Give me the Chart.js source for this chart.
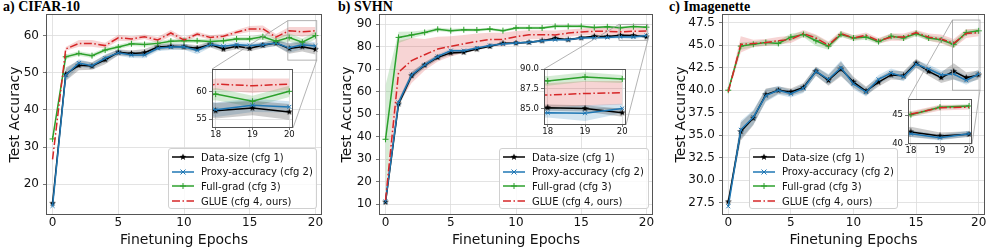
<!DOCTYPE html>
<html lang="en">
<head>
<meta charset="UTF-8">
<title>Test accuracy vs finetuning epochs</title>
<script src="https://cdn.jsdelivr.net/npm/chart.js"></script>
<style>
  body { margin: 0; background: #fff; }
  #fig { position: relative; width: 997px; height: 249px; overflow: hidden; font-family: "DejaVu Sans", sans-serif; }
  #fig canvas { position: absolute; }
  .ptitle { position: absolute; top: -1px; font: bold 14px "Liberation Serif", serif; color: #000; white-space: nowrap; }
  .legend { position: absolute; background: rgba(255,255,255,0.8); border: 1px solid #d0d0d0; border-radius: 3px; box-sizing: border-box; }
  .legend .row { position: absolute; left: 0; height: 14px; display: flex; align-items: center; font-size: 10px; color: #111; white-space: nowrap; }
  .legend svg { margin-left: 3px; margin-right: 7px; }
</style>
</head>
<body>
<div id="fig">
  <div class="ptitle" style="left:3px">a) CIFAR-10</div>
  <div class="ptitle" style="left:338px">b) SVHN</div>
  <div class="ptitle" style="left:669px">c) Imagenette</div>
</div>
<script>
// ---- data ----
const epochs = [0, 1, 2, 3, 4, 5, 6, 7, 8, 9, 10, 11, 12, 13, 14, 15, 16, 17, 18, 19, 20];
const xTicks = [0, 5, 10, 15, 20];
const insetXTicks = [18, 19, 20];
const seriesLabels = ['Data-size (cfg 1)', 'Proxy-accuracy (cfg 2)', 'Full-grad (cfg 3)', 'GLUE (cfg 4, ours)'];

// CIFAR-10
const cifarYTicks = [20, 30, 40, 50, 60];
const cifarInsetYTicks = [55, 60];
const cifarDataSize = [14.9, 49.6, 52.0, 51.8, 53.5, 55.5, 55.2, 55.4, 56.9, 57.1, 57.0, 56.6, 57.6, 56.4, 57.1, 56.6, 57.4, 58.0, 56.5, 57.0, 56.3];
const cifarDataSizeStd = [0.5, 1.8, 1.3, 1.0, 1.2, 0.8, 0.8, 1.0, 0.8, 0.8, 0.8, 0.8, 0.8, 0.8, 0.8, 0.8, 0.8, 0.8, 1.4, 1.3, 1.4];
const cifarProxy = [14.2, 49.4, 52.6, 51.9, 53.9, 55.4, 54.8, 54.8, 56.6, 56.9, 57.0, 56.0, 57.6, 57.1, 57.5, 57.3, 57.5, 58.0, 56.7, 57.5, 57.2];
const cifarProxyStd = [0.5, 1.5, 1.0, 0.8, 1.0, 0.8, 0.8, 0.9, 0.8, 0.8, 0.8, 1.0, 0.8, 0.8, 0.8, 0.8, 0.8, 0.8, 1.3, 1.2, 1.0];
const cifarFullGrad = [32.2, 54.3, 55.2, 54.6, 56.1, 56.9, 57.8, 57.6, 57.9, 58.5, 58.6, 58.6, 58.4, 58.6, 59.1, 59.1, 59.7, 58.5, 59.5, 58.2, 60.0];
const cifarFullGradStd = [0.5, 0.6, 0.6, 0.6, 0.6, 0.6, 0.6, 0.6, 0.6, 0.6, 0.6, 0.6, 0.6, 0.6, 0.6, 0.6, 0.8, 0.8, 1.1, 1.0, 1.0];
const cifarGlue = [26.7, 56.4, 57.9, 57.9, 57.3, 59.4, 59.1, 59.7, 58.8, 60.7, 58.8, 60.4, 59.5, 59.8, 60.9, 61.8, 61.8, 59.6, 61.3, 61.0, 61.3];
const cifarGlueStd = [0.5, 0.5, 0.9, 0.9, 0.8, 0.8, 0.7, 0.6, 0.8, 0.8, 0.7, 0.6, 0.6, 0.6, 0.6, 0.8, 0.9, 0.8, 1.0, 1.3, 1.0];

// SVHN
const svhnYTicks = [10, 20, 30, 40, 50, 60, 70, 80, 90];
const svhnInsetYTicks = [85, 87.5, 90];
const svhnDataSize = [11.0, 54.6, 67.2, 71.9, 75.3, 77.3, 77.6, 79.0, 80.2, 81.6, 81.7, 82.0, 82.7, 83.8, 83.2, 84.0, 84.7, 84.6, 85.1, 85.0, 84.45];
const svhnDataSizeStd = [0.5, 1.5, 1.5, 1.2, 1.0, 0.8, 0.6, 0.5, 0.5, 0.5, 0.5, 0.5, 0.5, 0.5, 0.5, 0.5, 0.5, 0.5, 0.4, 0.4, 0.5];
const svhnProxy = [11.2, 55.3, 67.5, 72.0, 75.7, 78.3, 78.3, 79.5, 80.6, 81.3, 81.7, 82.0, 82.7, 83.2, 83.2, 83.9, 84.0, 84.2, 84.45, 84.4, 85.0];
const svhnProxyStd = [0.5, 1.5, 1.5, 1.2, 1.0, 0.8, 0.6, 0.5, 0.5, 0.5, 0.5, 0.5, 0.5, 0.5, 0.5, 0.5, 0.6, 0.6, 0.6, 1.0, 0.6];
const svhnFullGrad = [38.9, 84.2, 85.3, 86.4, 87.8, 87.2, 87.6, 87.5, 87.9, 87.2, 88.4, 88.4, 88.4, 89.1, 89.1, 89.1, 88.6, 88.9, 88.5, 89.0, 88.75];
const svhnFullGradStd = [24, 2.5, 1.5, 1.0, 0.8, 0.8, 0.7, 0.7, 0.6, 0.6, 0.6, 0.6, 0.6, 0.6, 0.6, 0.6, 0.6, 0.6, 0.6, 0.6, 0.5];
const svhnGlue = [11.8, 68.7, 73.9, 76.5, 79.0, 80.2, 81.3, 82.4, 83.3, 83.3, 84.5, 85.4, 85.4, 85.3, 86.1, 86.6, 86.9, 86.9, 86.7, 86.9, 87.0];
const svhnGlueStd = [1.5, 14, 10, 7, 5.5, 4.5, 4, 3.5, 3, 3, 2.5, 2, 2, 2, 1.6, 1.6, 1.6, 1.6, 1.5, 1.6, 1.5];

// Imagenette
const imgYTicks = [27.5, 30, 32.5, 35, 37.5, 40, 42.5, 45, 47.5];
const imgInsetYTicks = [40, 45];
const imgDataSize = [27.6, 35.4, 36.9, 39.5, 40.0, 39.8, 40.3, 42.1, 41.1, 42.35, 40.9, 39.9, 40.9, 41.7, 41.6, 43.0, 42.1, 41.4, 42.1, 41.4, 41.7];
const imgDataSizeStd = [0.3, 1.0, 0.8, 0.7, 0.4, 0.4, 0.5, 0.5, 0.6, 0.8, 0.6, 0.5, 0.5, 0.5, 0.5, 0.5, 0.5, 0.6, 0.9, 0.6, 0.5];
const imgProxy = [27.1, 35.6, 37.0, 39.4, 40.0, 39.6, 40.2, 42.1, 41.2, 42.5, 40.7, 39.8, 41.2, 41.9, 41.5, 42.9, 42.35, 41.7, 41.8, 41.1, 41.8];
const imgProxyStd = [0.3, 1.0, 0.8, 0.7, 0.5, 0.4, 0.5, 0.5, 0.6, 0.8, 0.6, 0.5, 0.5, 0.5, 0.5, 0.4, 0.5, 0.5, 0.6, 0.5, 0.5];
const imgFullGrad = [40.0, 44.9, 45.1, 45.3, 45.2, 45.9, 46.2, 45.5, 44.9, 46.2, 45.8, 45.9, 45.4, 46.0, 45.8, 46.3, 45.8, 45.6, 45.1, 46.4, 46.6];
const imgFullGradStd = [0.2, 0.4, 0.3, 0.3, 0.3, 0.4, 0.3, 0.6, 0.4, 0.3, 0.3, 0.3, 0.3, 0.3, 0.3, 0.3, 0.3, 0.3, 0.4, 0.3, 0.3];
const imgGlue = [39.8, 45.1, 45.2, 45.3, 45.5, 45.65, 46.3, 45.8, 45.0, 46.3, 45.8, 46.1, 45.5, 45.9, 45.9, 46.4, 45.9, 45.7, 45.2, 46.3, 46.4];
const imgGlueStd = [0.2, 0.9, 0.4, 0.4, 0.4, 0.4, 0.4, 0.4, 0.4, 0.3, 0.3, 0.3, 0.3, 0.4, 0.4, 0.3, 0.4, 0.5, 0.5, 0.5, 0.4];

// ---- styles ----
Chart.defaults.font.family = "'DejaVu Sans', sans-serif";
Chart.defaults.color = '#111';

// small filled star for the data-size marker (matplotlib '*')
function starImage(size, color) {
  const c = document.createElement('canvas');
  c.width = size; c.height = size;
  const g = c.getContext('2d');
  const r = size / 2, ri = r * 0.42;
  g.beginPath();
  for (let i = 0; i < 10; i++) {
    const a = -Math.PI / 2 + i * Math.PI / 5;
    const rr = i % 2 ? ri : r;
    g.lineTo(r + rr * Math.cos(a), r + rr * Math.sin(a));
  }
  g.closePath();
  g.fillStyle = color;
  g.fill();
  return c;
}

const styles = [
  { color: '#000000', band: 'rgba(0,0,0,0.2)', point: starImage(7, '#000'), radius: 3, dash: [], svg: 'star' },
  { color: '#1f77b4', band: 'rgba(31,119,180,0.2)', point: 'crossRot', radius: 2.8, dash: [], svg: 'x' },
  { color: '#2ca02c', band: 'rgba(44,160,44,0.2)', point: 'cross', radius: 3, dash: [], svg: 'plus' },
  { color: '#d62728', band: 'rgba(214,39,40,0.2)', point: false, radius: 0, dash: [8, 2.5, 1.5, 2.5], svg: 'none' }
];

const panels = [
  {
    box: [46, 14, 322, 215], margin: { l: 46, r: 10 }, yTitlePad: 6.6,
    yMin: 11.75, yMax: 65.8, yTicks: cifarYTicks, dec: 0,
    series: [[cifarDataSize, cifarDataSizeStd], [cifarProxy, cifarProxyStd], [cifarFullGrad, cifarFullGradStd], [cifarGlue, cifarGlueStd]],
    inset: { box: [212, 66, 294, 128], yMin: 53.4, yMax: 64, yTicks: cifarInsetYTicks, dec: 0 },
    legend: [168, 148, 149, 61]
  },
  {
    box: [379, 14, 653, 215], margin: { l: 47, r: 11 }, yTitlePad: 7.1,
    yMin: 5.24, yMax: 94.6, yTicks: svhnYTicks, dec: 0,
    series: [[svhnDataSize, svhnDataSizeStd], [svhnProxy, svhnProxyStd], [svhnFullGrad, svhnFullGradStd], [svhnGlue, svhnGlueStd]],
    inset: { box: [544, 66, 627, 125], yMin: 82.9, yMax: 90, yTicks: svhnInsetYTicks, dec: 1 },
    legend: [499, 148, 150, 61]
  },
  {
    box: [722, 14, 985, 215], margin: { l: 58, r: 12 }, yTitlePad: 8.6,
    yMin: 26.13, yMax: 48.47, yTicks: imgYTicks, dec: 1,
    series: [[imgDataSize, imgDataSizeStd], [imgProxy, imgProxyStd], [imgFullGrad, imgFullGradStd], [imgGlue, imgGlueStd]],
    inset: { box: [908, 96, 973, 144], yMin: 40, yMax: 47.8, yTicks: imgInsetYTicks, dec: 0 },
    legend: [749, 148, 149, 61]
  }
];

const fig = document.getElementById('fig');

function buildDatasets(series) {
  const sets = [];
  series.forEach(([mean, std], k) => {
    const st = styles[k];
    const pts = f => epochs.map((e, i) => ({ x: e, y: f(i) }));
    sets.push({ data: pts(i => mean[i] - std[i]), borderWidth: 0, pointRadius: 0, fill: false, order: 10 });
    sets.push({ data: pts(i => mean[i] + std[i]), borderWidth: 0, pointRadius: 0, fill: '-1', backgroundColor: st.band, order: 10 });
    sets.push({
      label: seriesLabels[k], data: pts(i => mean[i]),
      borderColor: st.color, borderWidth: 1.5, borderDash: st.dash,
      pointStyle: st.point, pointRadius: st.radius,
      pointBorderColor: st.color, pointBackgroundColor: st.color, pointBorderWidth: 1,
      fill: false, tension: 0, order: 3 - k
    });
  });
  return sets;
}

const framePlugin = {
  id: 'frame',
  afterDraw(chart) {
    const a = chart.chartArea, ctx = chart.ctx;
    ctx.save();
    ctx.strokeStyle = '#555';
    ctx.lineWidth = 1;
    ctx.strokeRect(Math.round(a.left) + 0.5, Math.round(a.top) + 0.5, Math.round(a.right - a.left) - 1, Math.round(a.bottom - a.top) - 1);
    ctx.restore();
  }
};

function makeCanvas(box, m) {
  const cv = document.createElement('canvas');
  cv.width = box[2] - box[0] + m.l + m.r;
  cv.height = box[3] - box[1] + m.t + m.b;
  cv.style.left = (box[0] - m.l) + 'px';
  cv.style.top = (box[1] - m.t) + 'px';
  fig.appendChild(cv);
  return cv;
}

function axisOpts(min, max, ticks, dec, fontSize, m, title, titlePad, isX, tickLen, pad) {
  return {
    type: 'linear', min: min, max: max,
    afterBuildTicks: s => { s.ticks = ticks.map(v => ({ value: v })); },
    afterFit: s => { if (isX) s.height = m.b; else s.width = m.l; },
    ticks: { font: { size: fontSize }, color: '#111', padding: pad, autoSkip: false, maxRotation: 0,
             callback: v => v.toFixed(dec) },
    grid: { color: '#dcdcdc', lineWidth: 0.8, drawTicks: tickLen > 0, tickLength: tickLen, tickColor: '#555' },
    border: { display: false },
    title: title ? { display: true, text: title, font: { size: 14 }, color: '#111',
                     padding: isX ? { top: 0, bottom: titlePad } : { top: titlePad, bottom: 0 } } : { display: false }
  };
}

function markerSvg(kind, color, dash) {
  let s = `<svg width="22" height="10" viewBox="0 0 22 10"><line x1="0" y1="5" x2="22" y2="5" stroke="${color}" stroke-width="1.5"${dash.length ? ` stroke-dasharray="${dash.join(' ')}"` : ''}/>`;
  if (kind === 'star') {
    const p = [];
    for (let i = 0; i < 10; i++) {
      const a = -Math.PI / 2 + i * Math.PI / 5, r = i % 2 ? 1.5 : 3.6;
      p.push((11 + r * Math.cos(a)).toFixed(2) + ',' + (5 + r * Math.sin(a)).toFixed(2));
    }
    s += `<polygon points="${p.join(' ')}" fill="${color}"/>`;
  } else if (kind === 'x') {
    s += `<path d="M8.5 2.5 L13.5 7.5 M13.5 2.5 L8.5 7.5" stroke="${color}" stroke-width="1"/>`;
  } else if (kind === 'plus') {
    s += `<path d="M11 2 L11 8 M8 5 L14 5" stroke="${color}" stroke-width="1"/>`;
  }
  return s + '</svg>';
}

panels.forEach(p => {
  // inset first, so the main chart can link to it
  const ib = p.inset.box;
  const im = { l: 28, r: 4, t: 4, b: 14 };
  const icv = makeCanvas(ib, im);
  const inset = new Chart(icv, {
    type: 'line',
    data: { datasets: buildDatasets(p.series) },
    options: {
      responsive: false, animation: false, devicePixelRatio: 1,
      layout: { padding: { left: 0, top: im.t, right: im.r, bottom: 0 } },
      plugins: { legend: { display: false }, tooltip: { enabled: false } },
      scales: {
        x: axisOpts(17.9, 20.1, insetXTicks, 0, 8.5, im, null, 0, true, 2, 0),
        y: axisOpts(p.inset.yMin, p.inset.yMax, p.inset.yTicks, p.inset.dec, 8.5, im, null, 0, false, 3, 2)
      }
    },
    plugins: [{
      id: 'whiteBg',
      beforeDraw(chart) {
        const a = chart.chartArea;
        chart.ctx.save();
        chart.ctx.fillStyle = '#fff';
        chart.ctx.fillRect(a.left, a.top, a.right - a.left, a.bottom - a.top);
        chart.ctx.restore();
      }
    }, framePlugin]
  });
  icv.style.zIndex = 2;

  const m = { l: p.margin.l, r: p.margin.r, t: 14, b: 34 };
  const cv = makeCanvas(p.box, m);
  cv.style.zIndex = 1;
  const links = {
    id: 'insetLinks',
    afterDatasetsDraw(chart) {
      const xs = chart.scales.x, ys = chart.scales.y;
      const ix = inset.scales.x, iy = inset.scales.y;
      const x0 = xs.getPixelForValue(ix.min), x1 = xs.getPixelForValue(ix.max);
      const y0 = ys.getPixelForValue(iy.max), y1 = ys.getPixelForValue(iy.min);
      const dx = icv.offsetLeft - cv.offsetLeft, dy = icv.offsetTop - cv.offsetTop;
      const a = inset.chartArea, ctx = chart.ctx;
      ctx.save();
      ctx.strokeStyle = '#a0a0a0';
      ctx.lineWidth = 0.8;
      ctx.strokeRect(x0, y0, x1 - x0, y1 - y0);
      ctx.beginPath();
      ctx.moveTo(x0, y0); ctx.lineTo(a.left + dx, a.top + dy);
      ctx.moveTo(x1, y1); ctx.lineTo(a.right + dx, a.bottom + dy);
      ctx.stroke();
      ctx.restore();
    }
  };
  new Chart(cv, {
    type: 'line',
    data: { datasets: buildDatasets(p.series) },
    options: {
      responsive: false, animation: false, devicePixelRatio: 1,
      layout: { padding: { left: 0, top: m.t, right: m.r, bottom: 0 } },
      plugins: { legend: { display: false }, tooltip: { enabled: false } },
      scales: {
        x: axisOpts(-0.5, 20.5, xTicks, 0, 12, m, 'Finetuning Epochs', 0.5, true, 0, 1),
        y: axisOpts(p.yMin, p.yMax, p.yTicks, p.dec, 12, m, 'Test Accuracy', p.yTitlePad, false, 3, 4)
      }
    },
    plugins: [links, framePlugin]
  });

  // legend
  const lg = document.createElement('div');
  lg.className = 'legend';
  lg.style.left = p.legend[0] + 'px';
  lg.style.top = p.legend[1] + 'px';
  lg.style.width = p.legend[2] + 'px';
  lg.style.height = p.legend[3] + 'px';
  lg.style.zIndex = 3;
  seriesLabels.forEach((lab, k) => {
    const row = document.createElement('div');
    row.className = 'row';
    row.style.top = (1 + k * 14.7) + 'px';
    row.innerHTML = markerSvg(styles[k].svg, styles[k].color, styles[k].dash) + '<span>' + lab + '</span>';
    lg.appendChild(row);
  });
  fig.appendChild(lg);
});
</script>
</body>
</html>
